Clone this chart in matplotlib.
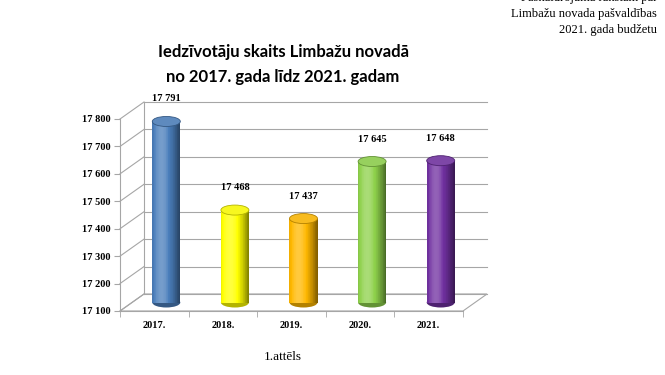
import matplotlib
matplotlib.use("Agg")
import matplotlib.pyplot as plt
from matplotlib.patches import Ellipse, Polygon
from matplotlib.colors import to_rgb
import numpy as np

years = ["2017.", "2018.", "2019.", "2020.", "2021."]
population = [17791, 17468, 17437, 17645, 17648]
value_labels = ["17 791", "17 468", "17 437", "17 645", "17 648"]
y_ticks = [17100, 17200, 17300, 17400, 17500, 17600, 17700, 17800]
y_tick_labels = ["17 100", "17 200", "17 300", "17 400", "17 500", "17 600", "17 700", "17 800"]
bar_colors = ["#4A7EBB", "#FFFF00", "#FFB800", "#8ED14B", "#7030A0"]

title_line1 = "Iedzīvotāju skaits Limbažu novadā"
title_line2 = "no 2017. gada līdz 2021. gadam"
header_lines = ["Paskaidrojuma rakstam par", "Limbažu novada pašvaldības", "2021. gada budžetu"]
caption = "1.attēls"

DPI = 100
FW, FH = 665, 375
fig = plt.figure(figsize=(FW / DPI, FH / DPI), dpi=DPI)
fig.patch.set_facecolor("white")

# front plane of the 3D box
ax = fig.add_axes([120 / FW, (FH - 311) / FH, 343 / FW, 192 / FH])
ax.set_xlim(-0.5, 4.5)
ax.set_ylim(y_ticks[0], y_ticks[-1])
ax.set_facecolor("none")

# depth offset (pixels) converted to data units
fig.canvas.draw()
bb = ax.get_window_extent()
px_x = bb.width / 5.0
px_y = bb.height / (y_ticks[-1] - y_ticks[0])
DX = 24 / px_x
DY = 17 / px_y

grid_c = "#A6A6A6"
ymin, ymax = y_ticks[0], y_ticks[-1]

# floor
floor = Polygon([(-0.5, ymin), (4.5, ymin), (4.5 + DX, ymin + DY), (-0.5 + DX, ymin + DY)],
                closed=True, facecolor="white", edgecolor=grid_c, lw=0.8, zorder=1, clip_on=False)
ax.add_patch(floor)

# back wall gridlines and side-wall diagonals
for t in y_ticks:
    ax.plot([-0.5 + DX, 4.5 + DX], [t + DY, t + DY], color=grid_c, lw=0.8, zorder=1, clip_on=False)
    ax.plot([-0.5, -0.5 + DX], [t, t + DY], color=grid_c, lw=0.8, zorder=1, clip_on=False)
ax.plot([-0.5 + DX, -0.5 + DX], [ymin + DY, ymax + DY], color=grid_c, lw=0.8, zorder=1, clip_on=False)

# cylinders
bw = 28 / px_x
eh = 10 / px_y
N = 40
xs = np.linspace(-1, 1, N)
for i, (v, c) in enumerate(zip(population, bar_colors)):
    cx = i + DX / 2
    base = ymin + DY / 2
    rgb = np.array(to_rgb(c))
    prof = np.cos((xs + 0.35) * np.pi / 2.6)
    shades = []
    for p in prof:
        if p > 0.8:
            s = rgb + (1 - rgb) * (p - 0.8) * 1.2
        else:
            s = rgb * (0.55 + 0.45 * p / 0.8)
        shades.append(np.clip(s, 0, 1))
    ax.add_patch(Ellipse((cx, base), bw, eh, facecolor=rgb * 0.7, edgecolor="none", zorder=3, clip_on=False))
    sw = bw / N
    for k in range(N):
        ax.bar(cx - bw / 2 + (k + 0.5) * sw, v - base, bottom=base, width=sw * 1.05,
               color=shades[k], edgecolor="none", zorder=4, clip_on=False)
    top_c = np.clip(rgb * 0.85 + 0.12, 0, 1)
    ax.add_patch(Ellipse((cx, v), bw, eh, facecolor=top_c, edgecolor=np.clip(rgb * 0.7, 0, 1),
                         lw=0.6, zorder=5, clip_on=False))
    ax.text(cx, v + 13 / px_y + eh / 2, value_labels[i], ha="center", va="bottom",
            fontfamily="Liberation Serif", fontweight="bold", fontsize=7.5, zorder=6, clip_on=False)

# axes decoration
for s in ["top", "right"]:
    ax.spines[s].set_visible(False)
ax.spines["left"].set_color(grid_c)
ax.spines["bottom"].set_color(grid_c)
ax.spines["left"].set_zorder(2)
ax.spines["bottom"].set_zorder(2)
ax.set_yticks(y_ticks)
ax.set_yticklabels(y_tick_labels, fontfamily="Liberation Serif", fontweight="bold", fontsize=7.5)
ax.tick_params(axis="y", length=4, color=grid_c, pad=3)
ax.set_xticks(range(len(years)))
ax.set_xticklabels(years, fontfamily="Liberation Serif", fontweight="bold", fontsize=7.5)
ax.tick_params(axis="x", length=0, pad=7)
ax.set_xticks(np.arange(-0.5, 5.0, 1.0), minor=True)
ax.tick_params(axis="x", which="minor", length=4, color=grid_c)

# titles and texts
fig.text(283 / FW, 1 - 52 / FH, title_line1, ha="center", va="center",
         fontfamily="Lato", fontweight="bold", fontsize=12)
fig.text(283 / FW, 1 - 77 / FH, title_line2, ha="center", va="center",
         fontfamily="Lato", fontweight="bold", fontsize=12)
for j, line in enumerate(header_lines):
    fig.text(657 / FW, 1 - (-2 + 16 * j) / FH, line, ha="right", va="center",
             fontfamily="Liberation Serif", fontsize=9)
fig.text(283 / FW, 1 - 357 / FH, caption, ha="center", va="center",
         fontfamily="Liberation Serif", fontsize=9.5)

fig.savefig("out.png", dpi=DPI)
